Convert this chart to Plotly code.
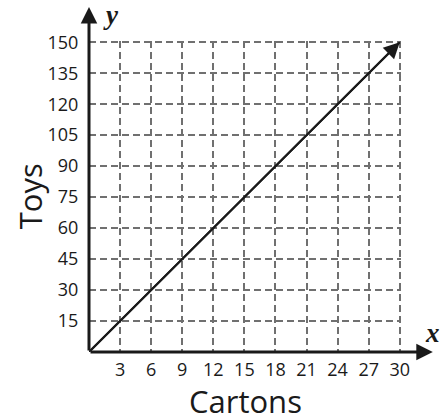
import plotly.graph_objects as go

# data: cartons vs toys (5 toys per carton)
cartons = [0, 30]
toys = [0, 150]
x_ticks = [3, 6, 9, 12, 15, 18, 21, 24, 27, 30]
y_ticks = [15, 30, 45, 60, 75, 90, 105, 120, 135, 150]

ink = "#1a1a1a"

fig = go.Figure()

fig.add_trace(go.Scatter(
    x=cartons, y=toys, mode="lines",
    line=dict(color=ink, width=2),
    hoverinfo="skip", showlegend=False, cliponaxis=False,
))

# arrowhead on the data line
fig.add_annotation(x=cartons[-1], y=toys[-1], ax=cartons[0], ay=toys[0],
                   xref="x", yref="y", axref="x", ayref="y", text="",
                   showarrow=True, arrowhead=2, arrowsize=1.6, arrowwidth=2, arrowcolor=ink)

# axis lines with arrowheads
fig.add_annotation(x=1.102, y=0, xref="x domain", yref="y domain",
                   ax=0, ay=0, axref="x domain", ayref="y domain",
                   showarrow=True, arrowhead=2, arrowsize=1.1, arrowwidth=3, arrowcolor=ink, text="")
fig.add_annotation(x=0, y=1.109, xref="x domain", yref="y domain",
                   ax=0, ay=0, axref="x domain", ayref="y domain",
                   showarrow=True, arrowhead=2, arrowsize=1.1, arrowwidth=3, arrowcolor=ink, text="")

fig.add_annotation(x=1.102, y=0.06, xref="x domain", yref="y domain", text="<b><i>x</i></b>",
                   showarrow=False, xanchor="center", yanchor="middle",
                   font=dict(family="Liberation Serif", size=27, color=ink))
fig.add_annotation(x=0.072, y=1.084, xref="x domain", yref="y domain", text="<b><i>y</i></b>",
                   showarrow=False, xanchor="center", yanchor="middle",
                   font=dict(family="Liberation Serif", size=27, color=ink))

# axis titles
fig.add_annotation(x=0.5, y=-0.158, xref="x domain", yref="y domain", text="Cartons",
                   showarrow=False, xanchor="center", yanchor="middle",
                   font=dict(family="Open Sans", size=31, color=ink))
fig.add_annotation(x=-0.19, y=0.5, xref="x domain", yref="y domain", text="Toys",
                   showarrow=False, textangle=-90, xanchor="center", yanchor="middle",
                   font=dict(family="Open Sans", size=31, color=ink))

# ranges run a hair past the last tick so plotly keeps the edge grid lines
fig.update_xaxes(range=[0, 30.12], tickvals=x_ticks, showgrid=True, griddash="7px,4px",
                 gridcolor="#707070", gridwidth=2, zeroline=False, showline=False,
                 ticks="outside", ticklen=1, tickcolor="rgba(0,0,0,0)", automargin=False,
                 tickfont=dict(family="Open Sans", size=18, color=ink))
fig.update_yaxes(range=[0, 150.6], tickvals=y_ticks, showgrid=True, griddash="7px,4px",
                 gridcolor="#707070", gridwidth=2, zeroline=False, showline=False,
                 ticks="outside", ticklen=6, tickcolor="rgba(0,0,0,0)", automargin=False,
                 tickfont=dict(family="Open Sans", size=18, color=ink))

fig.update_layout(width=443, height=419, margin=dict(l=89, r=42, t=41, b=67),
                  plot_bgcolor="white", paper_bgcolor="white")

fig.write_html("out.html", config={"displayModeBar": False},
               post_script="document.body.style.margin='0';")
